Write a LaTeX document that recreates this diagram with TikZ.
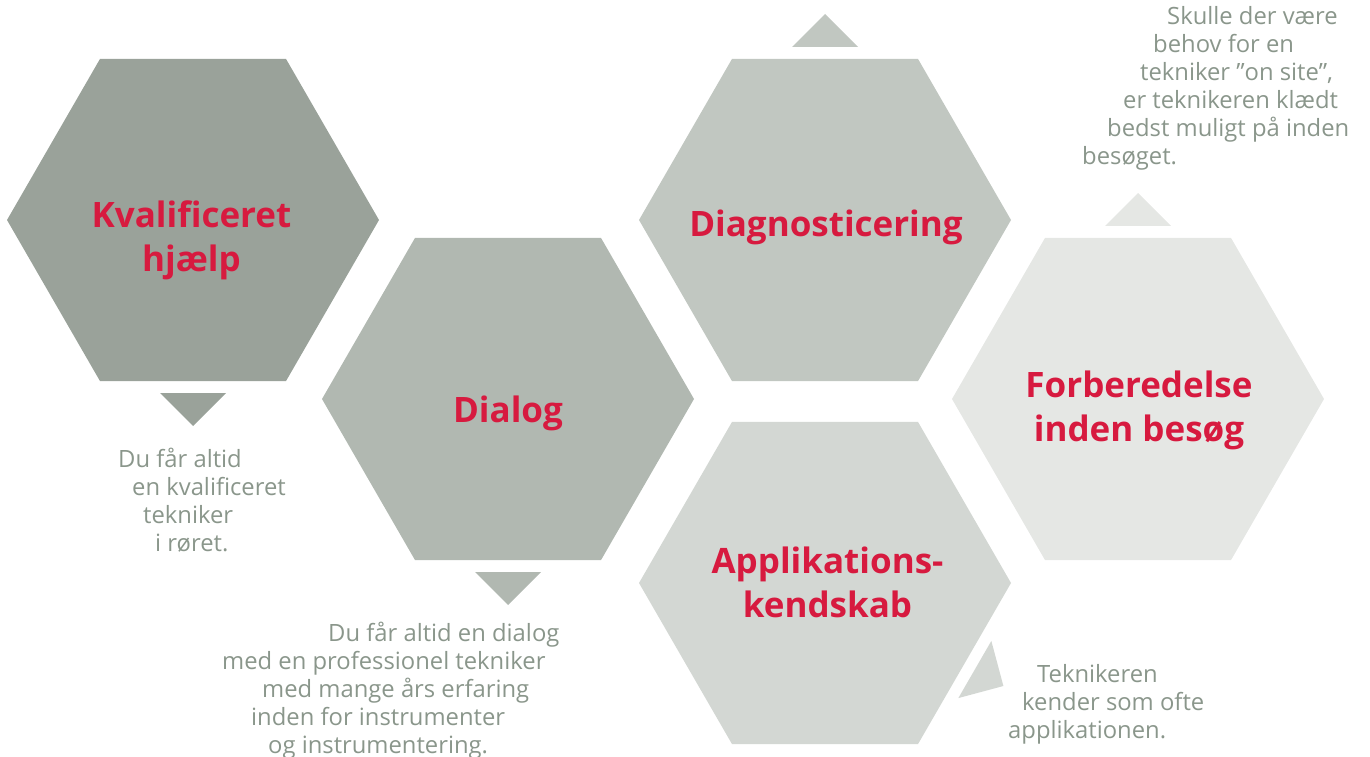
\documentclass[tikz,border=0pt]{standalone}
\usepackage{fontspec}
\setmainfont{Open Sans}
\usetikzlibrary{shapes.geometric,calc}
\definecolor{hexA}{HTML}{9AA29A}
\definecolor{hexB}{HTML}{B1B8B1}
\definecolor{hexC}{HTML}{C1C7C1}
\definecolor{hexD}{HTML}{D3D7D3}
\definecolor{hexE}{HTML}{E5E7E4}
\definecolor{titlered}{HTML}{D71A3F}
\definecolor{notegrey}{HTML}{8A968B}
\newcommand\hexpointer[3]{%
  \fill[#3] ($(#1.center)+(#2:173pt)+(#2+90:33pt)$) -- ($(#1.center)+(#2:206pt)$) -- ($(#1.center)+(#2:173pt)+(#2-90:33pt)$) -- cycle;}
\begin{document}
\begin{tikzpicture}[x=1pt,y=1pt,
  hexa/.style={regular polygon,regular polygon sides=6,minimum size=372pt,inner sep=0pt,outer sep=0pt,draw=none},
  title/.style={font=\fontsize{35}{44}\selectfont\bfseries,text=titlered,inner sep=0pt,anchor=base},
  note/.style={font=\fontsize{23.8}{28}\selectfont,text=notegrey,inner sep=0pt,anchor=base west}]
\useasboundingbox (0,0) rectangle (1370,756);
% hexagons
\node[hexa,fill=hexA] (h1) at (193,536) {};
\node[hexa,fill=hexB] (h2) at (508,357) {};
\node[hexa,fill=hexC] (h3) at (825,536) {};
\node[hexa,fill=hexE] (h4) at (1138,357) {};
\node[hexa,fill=hexD] (h5) at (825,173) {};
% pointers
\hexpointer{h1}{-90}{hexA}
\hexpointer{h2}{-90}{hexB}
\hexpointer{h3}{90}{hexC}
\hexpointer{h4}{90}{hexE}
\hexpointer{h5}{-30}{hexD}
% titles
\node[title] (t1) at (191.5,528) {\begin{tabular}[t]{@{}c@{}}Kvalificeret\\hjælp\end{tabular}};
\node[title] (t2) at (508,334) {Dialog};
\node[title] (t3) at (826,519) {Diagnosticering};
\node[title] (t4) at (1139,359) {\begin{tabular}[t]{@{}c@{}}Forberedelse\\inden besøg\end{tabular}};
\node[title] (t5) at (827.5,183) {\begin{tabular}[t]{@{}c@{}}Applikations-\\kendskab\end{tabular}};
% notes
\node[note] (n1) at (118,289) {\begin{tabular}[t]{@{}l@{}}Du får altid\\\hspace*{14pt}en kvalificeret\\\hspace*{25pt}tekniker\\\hspace*{37pt}i røret.\end{tabular}};
\node[note] (n2) at (222,115) {\begin{tabular}[t]{@{}l@{}}\hspace*{106pt}Du får altid en dialog\\med en professionel tekniker\\\hspace*{40pt}med mange års erfaring\\\hspace*{29pt}inden for instrumenter\\\hspace*{46pt}og instrumentering.\end{tabular}};
\node[note] (n3) at (1008,74) {\begin{tabular}[t]{@{}l@{}}\hspace*{29pt}Teknikeren\\\hspace*{14pt}kender som ofte\\applikationen.\end{tabular}};
\node[note] (n4) at (1082,731) {\begin{tabular}[t]{@{}l@{}}\hspace*{85pt}Skulle der være\\\hspace*{71pt}behov for en\\\hspace*{58pt}tekniker ”on site”,\\\hspace*{41pt}er teknikeren klædt\\\hspace*{25pt}bedst muligt på inden\\besøget.\end{tabular}};
\end{tikzpicture}
\end{document}
